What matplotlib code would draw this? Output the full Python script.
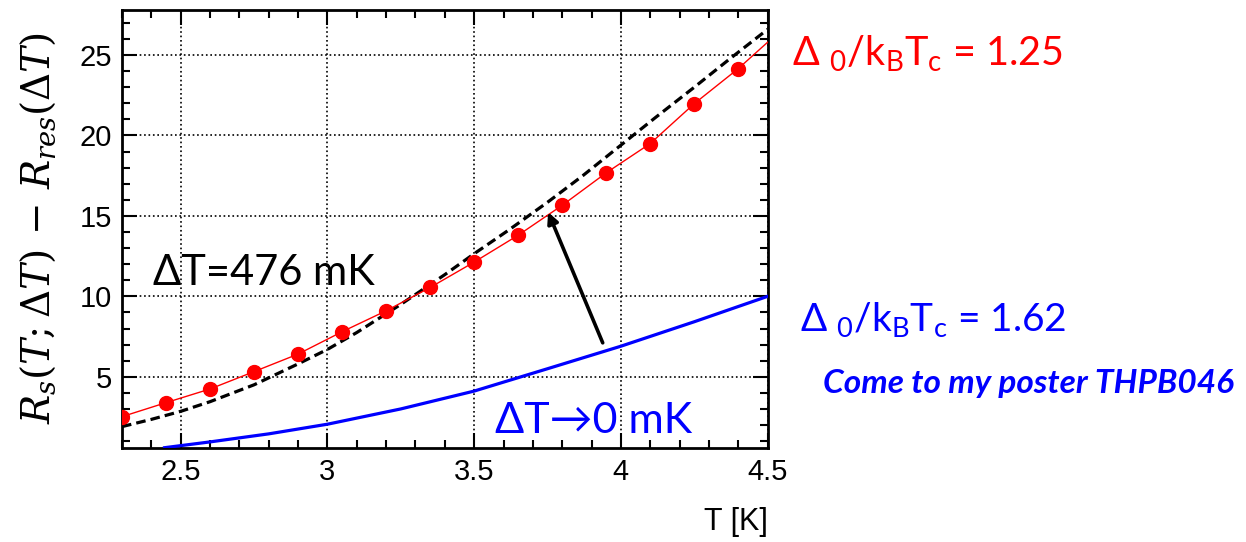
import numpy as np
import matplotlib
matplotlib.use("Agg")
import matplotlib.pyplot as plt
from matplotlib.ticker import MultipleLocator

# red points (Delta0/kTc = 1.25, dT = 476 mK)
red_x = [2.30, 2.45, 2.60, 2.75, 2.90, 3.05, 3.20, 3.35, 3.50, 3.65, 3.80, 3.95, 4.10, 4.25, 4.40]
red_y = [2.52, 3.39, 4.24, 5.32, 6.41, 7.80, 9.10, 10.55, 12.13, 13.80, 15.66, 17.68, 19.50, 21.98, 24.16]
red_end_x = 4.5
red_end_y = 25.8

# black dashed curve
dash_x = [2.30, 2.40, 2.50, 2.60, 2.75, 2.90, 3.00, 3.10, 3.25, 3.40, 3.50, 3.62, 3.75, 3.87, 4.00, 4.12, 4.25, 4.37, 4.50]
dash_y = [1.90, 2.35, 2.85, 3.45, 4.50, 5.80, 6.70, 7.75, 9.50, 11.35, 12.65, 14.15, 15.85, 17.50, 19.40, 21.15, 23.00, 24.75, 26.60]

# blue curve (dT -> 0)
blue_x = [2.445, 2.60, 2.80, 3.00, 3.25, 3.50, 3.75, 4.00, 4.25, 4.50]
blue_y = [0.59, 0.95, 1.45, 2.05, 3.00, 4.11, 5.50, 6.90, 8.42, 10.0]

plt.rcParams['font.family'] = ['Liberation Sans', 'DejaVu Sans']

fig = plt.figure(figsize=(12.46, 5.42), dpi=100)
ax = fig.add_axes([0.0979, 0.1734, 0.5182, 0.8081])

ax.plot(dash_x, dash_y, color='black', lw=2.3, ls=(0, (3, 1.6)), zorder=3)
ax.plot(red_x + [red_end_x], red_y + [red_end_y], color='red', lw=1.0, zorder=4)
ax.plot(red_x, red_y, 'o', color='red', ms=10, zorder=5)
ax.plot(blue_x, blue_y, color='#0000ff', lw=2.3, zorder=3)

ax.annotate('', xy=(3.752, 15.23), xytext=(3.938, 7.11),
            arrowprops=dict(arrowstyle='-|>', color='black', lw=2.6,
                            mutation_scale=16, shrinkA=0, shrinkB=0), zorder=6)

ax.set_xlim(2.3, 4.5)
ax.set_ylim(0.57, 27.8)
ax.xaxis.set_major_locator(MultipleLocator(0.5))
ax.xaxis.set_minor_locator(MultipleLocator(0.1))
ax.yaxis.set_major_locator(MultipleLocator(5))
ax.yaxis.set_minor_locator(MultipleLocator(1))
ax.tick_params(which='both', direction='in', top=True, right=True, width=1.5, labelsize=21)
ax.tick_params(which='major', length=11, pad=7)
ax.tick_params(which='minor', length=5.5)
ax.xaxis.set_major_formatter(plt.FuncFormatter(lambda v, p: ('%g' % v)))
ax.grid(True, which='major', color='black', ls=':', lw=1.2)
for s in ax.spines.values():
    s.set_linewidth(2)

ax.set_ylabel(r'$R_s(T;\mathit{\Delta} T)\,-\,R_{res}(\mathit{\Delta} T)$', fontsize=28,
              math_fontfamily='dejavuserif')
ax.yaxis.set_label_coords(-0.099, 0.503)
ax.set_xlabel('T [K]', fontsize=22, loc='right')
ax.xaxis.label.set_va('center')
ax.xaxis.set_label_coords(1.0, -0.169)

lato = ['Lato', 'DejaVu Sans']
fig.text(0.1228, 0.474, 'ΔT=476 mK', fontsize=30, family=lato, color='black')
fig.text(0.397, 0.201, 'ΔT→0 mK', fontsize=31, family=lato, color='#0000ff')
fig.text(0.6356, 0.880, r'Δ $_{\mathregular{0}}$/k$_{\mathregular{B}}$T$_{\mathregular{c}}$ = 1.25',
         fontsize=28.5, family=lato, color='red')
fig.text(0.642, 0.3875, r'Δ $_{\mathregular{0}}$/k$_{\mathregular{B}}$T$_{\mathregular{c}}$ = 1.62',
         fontsize=28, family=lato, color='#0000ff')
fig.text(0.6605, 0.275, 'Come to my poster THPB046', fontsize=24, family=lato,
         weight='bold', style='italic', color='#0000ff')

fig.savefig('out.png', dpi=100)
